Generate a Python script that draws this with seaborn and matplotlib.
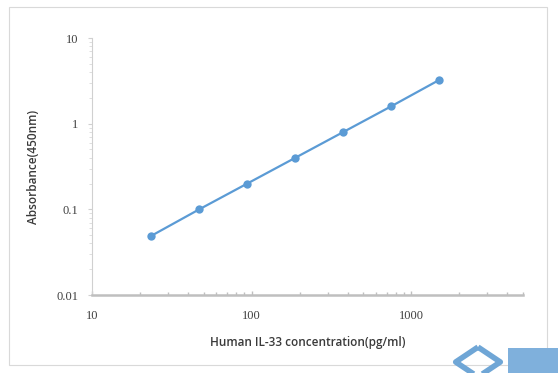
import matplotlib
matplotlib.use("Agg")
import matplotlib.pyplot as plt
import matplotlib.patches as mpatches
from matplotlib.ticker import LogLocator, FixedLocator, NullFormatter
import seaborn as sns
import pandas as pd

concentration = [23.44, 46.88, 93.75, 187.5, 375, 750, 1500]
absorbance = [0.049, 0.10, 0.20, 0.40, 0.80, 1.60, 3.25]
x_ticks = [10, 100, 1000]
x_tick_labels = ["10", "100", "1000"]
y_ticks = [0.01, 0.1, 1, 10]
y_tick_labels = ["0.01", "0.1", "1", "10"]

df = pd.DataFrame({"conc": concentration, "abs": absorbance})

sns.set_theme(style="white")
plt.rcParams["font.family"] = ["Open Sans", "DejaVu Sans"]

fig = plt.figure(figsize=(5.58, 3.73), dpi=100)
ax = fig.add_axes([0.165, 0.209, 0.772, 0.689])

# outer chart border
fig.patches.append(mpatches.Rectangle((9/558, 1-365/373), (547-9)/558, (365-7)/373,
                                      transform=fig.transFigure, fill=False,
                                      edgecolor="#d9d9d9", linewidth=0.8))

sns.lineplot(data=df, x="conc", y="abs", ax=ax, color="#5b9bd5", linewidth=1.6,
             marker="o", markersize=6, markeredgewidth=0, markeredgecolor="#5b9bd5")

ax.set_xscale("log")
ax.set_yscale("log")
ax.set_xlim(10, 5000)
ax.set_ylim(0.01, 10)

ax.xaxis.set_major_locator(FixedLocator(x_ticks))
ax.set_xticklabels(x_tick_labels)
ax.yaxis.set_major_locator(FixedLocator(y_ticks))
ax.set_yticklabels(y_tick_labels)
ax.xaxis.set_minor_locator(LogLocator(base=10, subs=range(2, 10), numticks=20))
ax.yaxis.set_minor_locator(LogLocator(base=10, subs=range(2, 10), numticks=20))
ax.xaxis.set_minor_formatter(NullFormatter())
ax.yaxis.set_minor_formatter(NullFormatter())

for lab in ax.get_xticklabels() + ax.get_yticklabels():
    lab.set_fontfamily(["Liberation Serif", "DejaVu Serif"])
    lab.set_fontsize(9)
    lab.set_color("#404040")

ax.tick_params(axis="x", which="major", direction="in", length=3, width=1, color="#bfbfbf", pad=11)
ax.tick_params(axis="x", which="minor", direction="in", length=2, width=1, color="#bfbfbf")
ax.tick_params(axis="y", which="major", direction="out", length=3, width=0.8, color="#d0d0d0", pad=7)
ax.tick_params(axis="y", which="minor", direction="out", length=2, width=0.6, color="#d9d9d9")
ax.tick_params(bottom=True, left=True, which="both")

for s in ["top", "right"]:
    ax.spines[s].set_visible(False)
ax.spines["left"].set_color("#d0d0d0")
ax.spines["left"].set_linewidth(0.8)
ax.spines["bottom"].set_color("#bfbfbf")
ax.spines["bottom"].set_linewidth(1.8)

ax.set_xlabel("Human IL-33 concentration(pg/ml)", fontsize=8.5, color="#3a3a3a",
              fontweight="semibold", labelpad=10)
ax.set_ylabel("Absorbance(450nm)", fontsize=8.5, color="#3a3a3a",
              fontweight="semibold", labelpad=12)
ax.grid(False)

# watermark-like corner marks
fig.patches.append(mpatches.Rectangle((508/558, 0), 50/558, 25/373, transform=fig.transFigure,
                                      facecolor="#7fb0dc", edgecolor="none"))
fig.patches.append(mpatches.RegularPolygon((478/558, 1-362/373), numVertices=4, radius=0.04,
                                           transform=fig.transFigure, fill=False,
                                           edgecolor="#6fa6d6", linewidth=4, joinstyle="round"))

fig.savefig("out.png", dpi=100)
